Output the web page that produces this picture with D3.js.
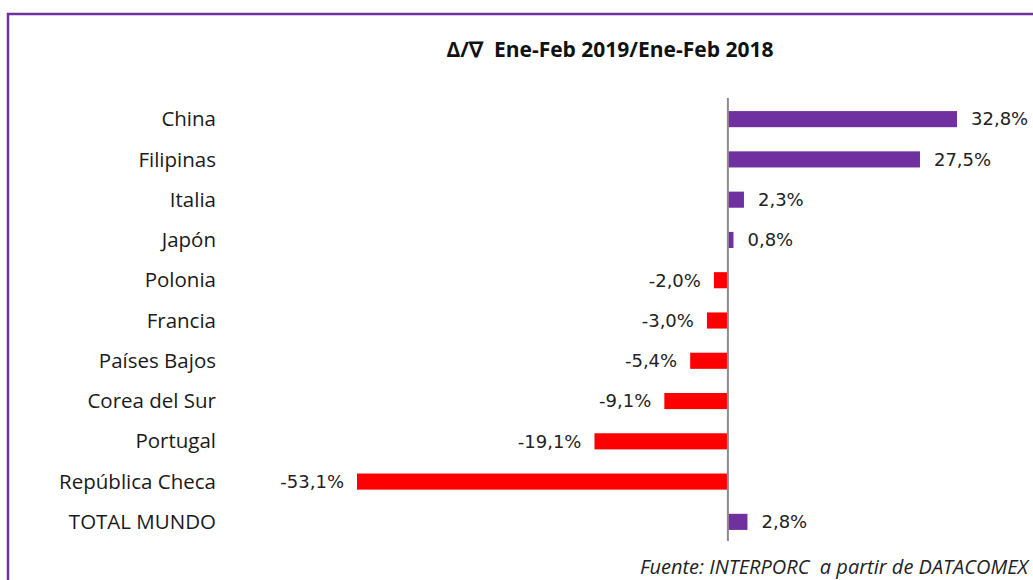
<!DOCTYPE html>
<html>
<head>
<meta charset="utf-8">
<script src="https://d3js.org/d3.v7.min.js"></script>
<style>
  body { margin: 0; background: #fff; }
  text { white-space: pre; }
</style>
</head>
<body>
<div id="chart"></div>
<script>
// data
const categories = ["China", "Filipinas", "Italia", "Japón", "Polonia", "Francia",
  "Países Bajos", "Corea del Sur", "Portugal", "República Checa", "TOTAL MUNDO"];
const values = [32.8, 27.5, 2.3, 0.8, -2.0, -3.0, -5.4, -9.1, -19.1, -53.1, 2.8];
const title = "Δ/∇  Ene-Feb 2019/Ene-Feb 2018";
const source = "Fuente: INTERPORC  a partir de DATACOMEX";

const width = 1033, height = 580;
const data = categories.map((c, i) => ({ name: c, value: values[i] }));

const svg = d3.select("#chart").append("svg")
    .attr("width", width)
    .attr("height", height);

// frame (only top and left edges visible in the crop)
svg.append("path")
    .attr("d", "M8,600 L8,14 L1040,14")
    .attr("fill", "none")
    .attr("stroke", "#7030a0")
    .attr("stroke-width", 2.5);

const x = d3.scaleLinear()
    .domain(d3.extent(values))
    .range([357, 957]);

const y = d3.scaleBand()
    .domain(categories)
    .range([99, 542])
    .paddingInner(0.6)
    .paddingOuter(0.3);

const fmt = v => d3.format(".1f")(v).replace(".", ",").replace("−", "-") + "%";

svg.append("text")
    .attr("x", 610)
    .attr("y", 57)
    .attr("text-anchor", "middle")
    .style("font-family", "'Open Sans', sans-serif")
    .style("font-weight", "bold")
    .style("font-size", "21px")
    .attr("fill", "#111")
    .text(title);

// bars
svg.append("g").selectAll("rect")
  .data(data)
  .join("rect")
    .attr("x", d => x(Math.min(0, d.value)))
    .attr("y", d => y(d.name))
    .attr("width", d => Math.abs(x(d.value) - x(0)))
    .attr("height", y.bandwidth())
    .attr("fill", d => d.value < 0 ? "#ff0000" : "#7030a0");

// zero line
svg.append("line")
    .attr("x1", x(0)).attr("x2", x(0))
    .attr("y1", 98).attr("y2", 541)
    .attr("stroke", "#8c8c8c")
    .attr("stroke-width", 2);

// category labels
svg.append("g").selectAll("text")
  .data(data)
  .join("text")
    .attr("x", 216)
    .attr("y", d => y(d.name) + y.bandwidth() / 2)
    .attr("dy", "0.35em")
    .attr("text-anchor", "end")
    .style("font-family", "'Open Sans', sans-serif")
    .style("font-size", "20.5px")
    .attr("fill", "#1a1a1a")
    .text(d => d.name);

// value labels
svg.append("g").selectAll("text")
  .data(data)
  .join("text")
    .attr("x", d => d.value < 0 ? x(d.value) - 13 : x(d.value) + 14)
    .attr("y", d => y(d.name) + y.bandwidth() / 2)
    .attr("dy", "0.35em")
    .attr("text-anchor", d => d.value < 0 ? "end" : "start")
    .style("font-family", "'DejaVu Sans', Verdana, sans-serif")
    .style("font-size", "18px")
    .attr("fill", "#222")
    .text(d => fmt(d.value));

svg.append("text")
    .attr("x", 1028)
    .attr("y", 574)
    .attr("text-anchor", "end")
    .style("font-family", "'Open Sans', sans-serif")
    .style("font-style", "italic")
    .style("font-size", "20px")
    .attr("fill", "#222")
    .text(source);
</script>
</body>
</html>
